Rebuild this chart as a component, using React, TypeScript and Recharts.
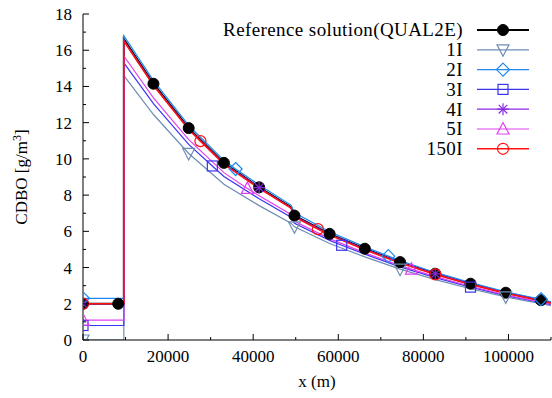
import React from 'react';
import { LineChart, Line, XAxis, YAxis } from 'recharts';

const W = 552;
const H = 398;
const FONT = '"Liberation Serif", "Times New Roman", Times, serif';

const xTicks = [0, 10000, 20000, 30000, 40000, 50000, 60000, 70000, 80000, 90000, 100000, 110000];
const xLabels = [0, 20000, 40000, 60000, 80000, 100000];
const yTicks = [0, 1, 2, 3, 4, 5, 6, 7, 8, 9, 10, 11, 12, 13, 14, 15, 16, 17, 18];
const yLabels = [0, 2, 4, 6, 8, 10, 12, 14, 16, 18];

const refX = [0, 8280, 9600, 9600, 16560, 24840, 33120, 41400, 48900, 49700, 57960, 66240, 74520, 82800, 91080, 99360, 107640, 110000];
const refY = [2.0, 2.0, 2.0, 16.62, 14.15, 11.7, 9.78, 8.43, 7.33, 6.87, 5.86, 5.04, 4.3, 3.66, 3.11, 2.61, 2.2, 2.07];
const refMarks = [0, 8280, 16560, 24840, 33120, 41400, 49700, 57960, 66240, 74520, 82800, 91080, 99360, 107640];

const i1X = [0, 9600, 9600, 16560, 24840, 33120, 41400, 48900, 49700, 57960, 66240, 74520, 82800, 91080, 99360, 107640, 110000];
const i1Y = [0, 0, 14.6, 12.45, 10.3, 8.6, 7.42, 6.45, 6.25, 5.33, 4.59, 3.91, 3.33, 2.83, 2.38, 2.01, 1.89];
const i1Marks = [0, 24840, 49700, 74520, 99360];

const i2X = [0, 9600, 9600, 16560, 24840, 33120, 35880, 41400, 48900, 49700, 57960, 66240, 71760, 74520, 82800, 91080, 99360, 107640, 110000];
const i2Y = [2.3, 2.3, 16.8, 14.32, 11.85, 9.92, 9.44, 8.56, 7.45, 7.02, 5.98, 5.14, 4.63, 4.39, 3.73, 3.17, 2.66, 2.25, 2.11];
const i2Marks = [0, 35880, 71760, 107640];

const i3X = [0, 9600, 9600, 16560, 24840, 30400, 33120, 41400, 48900, 49700, 57960, 60800, 66240, 74520, 82800, 91080, 99360, 107640, 110000];
const i3Y = [0.8, 0.8, 15.3, 13.05, 10.8, 9.61, 9.03, 7.8, 6.78, 6.45, 5.5, 5.23, 4.74, 4.04, 3.44, 2.92, 2.45, 2.07, 1.95];
const i3Marks = [0, 30400, 60800, 91080];

const i4X = [0, 9600, 9600, 16560, 24840, 33120, 41400, 48900, 49700, 57960, 66240, 74520, 82800, 91080, 99360, 107640, 110000];
const i4Y = [2.0, 2.0, 16.55, 14.1, 11.66, 9.75, 8.41, 7.31, 6.85, 5.84, 5.02, 4.29, 3.65, 3.1, 2.6, 2.19, 2.06];
const i4Marks = [0, 41400, 82800];

const i5X = [0, 9600, 9600, 16560, 24840, 33120, 38640, 41400, 48900, 49700, 57960, 66240, 74520, 77200, 82800, 91080, 99360, 107640, 110000];
const i5Y = [1.1, 1.1, 15.68, 13.37, 11.06, 9.24, 8.37, 7.97, 6.93, 6.56, 5.6, 4.81, 4.11, 3.91, 3.5, 2.97, 2.49, 2.1, 1.98];
const i5Marks = [0, 38640, 77200];

const i150X = [0, 9600, 9600, 16560, 24840, 27600, 33120, 41400, 48900, 49700, 55200, 57960, 66240, 74520, 82800, 91080, 99360, 107640, 110000];
const i150Y = [2.0, 2.0, 16.5, 14.05, 11.62, 10.98, 9.71, 8.37, 7.28, 6.79, 6.12, 5.79, 4.98, 4.25, 3.62, 3.07, 2.58, 2.17, 2.04];
const i150Marks = [0, 27600, 55200, 82800];

type Shape = 'fcircle' | 'tdown' | 'diamond' | 'square' | 'star' | 'tup' | 'circle';

interface Series {
  name: string;
  color: string;
  width: number;
  shape: Shape;
  xs: number[];
  ys: number[];
  marks: number[];
}

const series: Series[] = [
  { name: 'Reference solution(QUAL2E)', color: '#000000', width: 2, shape: 'fcircle', xs: refX, ys: refY, marks: refMarks },
  { name: '1I', color: '#6f8db4', width: 1.2, shape: 'tdown', xs: i1X, ys: i1Y, marks: i1Marks },
  { name: '2I', color: '#2088f0', width: 1.2, shape: 'diamond', xs: i2X, ys: i2Y, marks: i2Marks },
  { name: '3I', color: '#3b34f0', width: 1.2, shape: 'square', xs: i3X, ys: i3Y, marks: i3Marks },
  { name: '4I', color: '#8a2be2', width: 1.2, shape: 'star', xs: i4X, ys: i4Y, marks: i4Marks },
  { name: '5I', color: '#e040f0', width: 1.2, shape: 'tup', xs: i5X, ys: i5Y, marks: i5Marks },
  { name: '150I', color: '#ff1010', width: 1.6, shape: 'circle', xs: i150X, ys: i150Y, marks: i150Marks },
];

function Marker({ shape, cx, cy, color }: { shape: Shape; cx: number; cy: number; color: string }) {
  const sw = 1.2;
  switch (shape) {
    case 'fcircle':
      return <circle cx={cx} cy={cy} r={5.5} fill={color} stroke={color} />;
    case 'circle':
      return <circle cx={cx} cy={cy} r={5.5} fill="none" stroke={color} strokeWidth={sw} />;
    case 'tdown':
      return <polygon points={`${cx - 6},${cy - 5} ${cx + 6},${cy - 5} ${cx},${cy + 6.5}`} fill="none" stroke={color} strokeWidth={sw} />;
    case 'tup':
      return <polygon points={`${cx - 6},${cy + 5} ${cx + 6},${cy + 5} ${cx},${cy - 6.5}`} fill="none" stroke={color} strokeWidth={sw} />;
    case 'diamond':
      return <polygon points={`${cx},${cy - 6.5} ${cx + 6.5},${cy} ${cx},${cy + 6.5} ${cx - 6.5},${cy}`} fill="none" stroke={color} strokeWidth={sw} />;
    case 'square':
      return <rect x={cx - 5} y={cy - 5} width={10} height={10} fill="none" stroke={color} strokeWidth={sw} />;
    case 'star':
      return (
        <g stroke={color} strokeWidth={sw}>
          <line x1={cx - 6} y1={cy} x2={cx + 6} y2={cy} />
          <line x1={cx} y1={cy - 6} x2={cx} y2={cy + 6} />
          <line x1={cx - 4.3} y1={cy - 4.3} x2={cx + 4.3} y2={cy + 4.3} />
          <line x1={cx - 4.3} y1={cy + 4.3} x2={cx + 4.3} y2={cy - 4.3} />
        </g>
      );
  }
  return null;
}

const BottomTick = (props: any) => {
  const { x, y, payload } = props;
  const v = payload.value;
  const major = xLabels.includes(v);
  return (
    <g>
      <line x1={x} x2={x} y1={y} y2={y - (major ? 6 : 3)} stroke="#000" strokeWidth={1} />
      {major && (
        <text x={x} y={y + 22} textAnchor="middle" fontFamily={FONT} fontSize={17} fill="#000">
          {v}
        </text>
      )}
    </g>
  );
};

const TopTick = (props: any) => {
  const { x, y, payload } = props;
  const major = xLabels.includes(payload.value);
  return <line x1={x} x2={x} y1={y} y2={y + (major ? 6 : 3)} stroke="#000" strokeWidth={1} />;
};

const LeftTick = (props: any) => {
  const { x, y, payload } = props;
  const v = payload.value;
  const major = yLabels.includes(v);
  return (
    <g>
      <line x1={x} x2={x + (major ? 6 : 3)} y1={y} y2={y} stroke="#000" strokeWidth={1} />
      {major && (
        <text x={x - 11} y={y + 6} textAnchor="end" fontFamily={FONT} fontSize={17} fill="#000">
          {v}
        </text>
      )}
    </g>
  );
};

const RightTick = (props: any) => {
  const { x, y, payload } = props;
  const major = yLabels.includes(payload.value);
  return <line x1={x} x2={x - (major ? 6 : 3)} y1={y} y2={y} stroke="#000" strokeWidth={1} />;
};

function makeDot(s: Series) {
  return (props: any) => {
    const { cx, cy, payload, index } = props;
    if (payload == null || !s.marks.includes(payload.x) || (payload.x === 9600)) {
      return <g key={`n-${index}`} />;
    }
    return (
      <g key={`d-${index}`}>
        <Marker shape={s.shape} cx={cx} cy={cy} color={s.color} />
      </g>
    );
  };
}

const legendTop = 30;
const legendStep = 19.8;

export default function App() {
  return (
    <div style={{ position: 'absolute', left: 0, top: 0, width: W, height: H, background: '#fff' }}>
      <LineChart width={W} height={H} margin={{ top: 14, right: 1, bottom: 0, left: 0 }}>
        <XAxis
          xAxisId="b"
          dataKey="x"
          type="number"
          domain={[0, 110000]}
          ticks={xTicks}
          interval={0}
          allowDataOverflow
          height={58}
          tickSize={0}
          tickMargin={0}
          axisLine={{ stroke: '#000', strokeWidth: 1 }}
          tick={<BottomTick />}
        />
        <XAxis
          xAxisId="t"
          orientation="top"
          dataKey="x"
          type="number"
          domain={[0, 110000]}
          ticks={xTicks}
          interval={0}
          allowDataOverflow
          height={0}
          tickSize={0}
          tickMargin={0}
          axisLine={{ stroke: '#000', strokeWidth: 1 }}
          tick={<TopTick />}
        />
        <YAxis
          yAxisId="l"
          type="number"
          domain={[0, 18]}
          ticks={yTicks}
          interval={0}
          allowDataOverflow
          width={83}
          tickSize={0}
          tickMargin={0}
          axisLine={{ stroke: '#000', strokeWidth: 1 }}
          tick={<LeftTick />}
        />
        <YAxis
          yAxisId="r"
          orientation="right"
          type="number"
          domain={[0, 18]}
          ticks={yTicks}
          interval={0}
          allowDataOverflow
          width={0}
          tickSize={0}
          tickMargin={0}
          axisLine={{ stroke: '#000', strokeWidth: 1 }}
          tick={<RightTick />}
        />
        {series.map((s) => (
          <Line
            key={s.name}
            xAxisId="b"
            yAxisId="l"
            data={s.xs.map((x, i) => ({ x, y: s.ys[i] }))}
            dataKey="y"
            type="linear"
            stroke={s.color}
            strokeWidth={s.width}
            dot={makeDot(s)}
            activeDot={false}
            isAnimationActive={false}
            legendType="none"
          />
        ))}
      </LineChart>
      <svg
        width={W}
        height={H}
        style={{ position: 'absolute', left: 0, top: 0, pointerEvents: 'none' }}
      >
        <text
          transform={`translate(27, 177) rotate(-90)`}
          textAnchor="middle"
          fontFamily={FONT}
          fontSize={17}
          fill="#000"
        >
          CDBO [g/m<tspan dy={-6} fontSize={12}>3</tspan><tspan dy={6}>]</tspan>
        </text>
        <text x={317} y={387} textAnchor="middle" fontFamily={FONT} fontSize={17} fill="#000">
          x (m)
        </text>
        {series.map((s, i) => {
          const y = legendTop + i * legendStep;
          return (
            <g key={s.name}>
              <text x={463} y={y + 6.3} textAnchor="end" fontFamily={FONT} fontSize={19} letterSpacing={0.4} fill="#000">
                {s.name}
              </text>
              <line x1={477} x2={529} y1={y} y2={y} stroke={s.color} strokeWidth={s.width} />
              <Marker shape={s.shape} cx={503} cy={y} color={s.color} />
            </g>
          );
        })}
      </svg>
    </div>
  );
}
